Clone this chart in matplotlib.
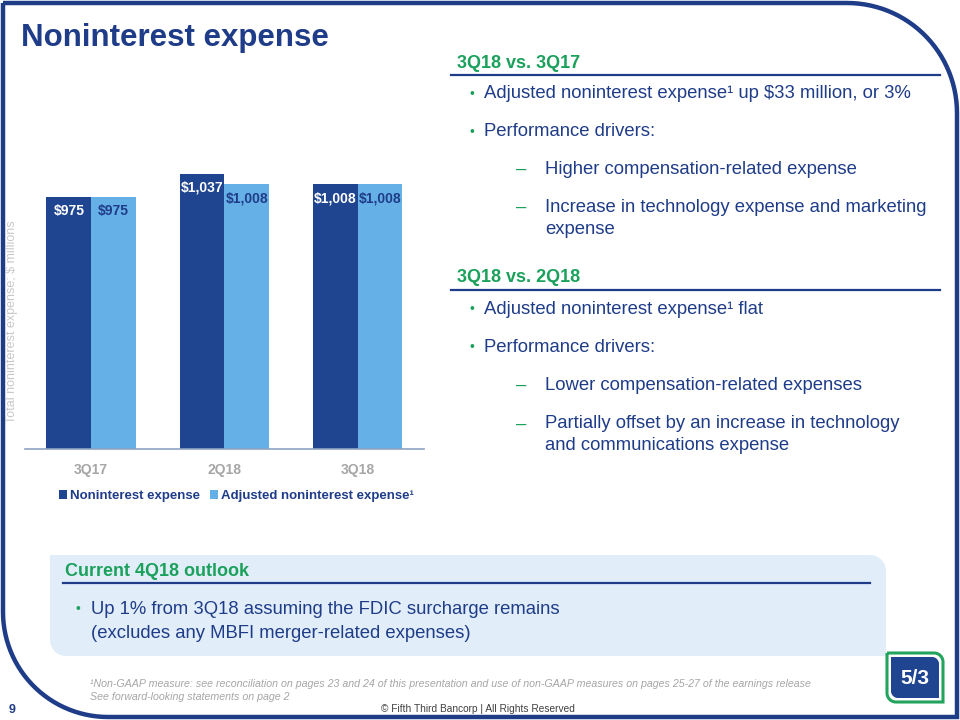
import numpy as np
import matplotlib
matplotlib.use("Agg")
import matplotlib.pyplot as plt
from matplotlib.path import Path
from matplotlib.patches import PathPatch

plt.rcParams['font.family'] = ['Liberation Sans', 'DejaVu Sans']

# ---------------- data ----------------
categories = ["3Q17", "2Q18", "3Q18"]
noninterest_expense = [975, 1037, 1008]
adjusted_noninterest_expense = [975, 1008, 1008]
series_names = ["Noninterest expense", "Adjusted noninterest expense¹"]
y_axis_label = "Total noninterest expense; $ millions"

# ---------------- styles ----------------
NAVY = "#1F3C88"
DARK_BAR = "#1F4591"
LIGHT_BAR = "#66B0E8"
GREEN = "#1BA15C"
GRAY = "#A6A6A6"

fig = plt.figure(figsize=(9.6, 7.2), dpi=100)
W, H = 960, 720

# background overlay axes in pixel coordinates
bg = fig.add_axes([0, 0, 1, 1])
bg.set_xlim(0, W)
bg.set_ylim(H, 0)
bg.axis("off")


def corner_path(x0, y0, x1, y1, r_tr, r_bl, n=30):
    pts = [(x0, y0), (x1 - r_tr, y0)]
    t = np.linspace(-np.pi / 2, 0, n)
    cx, cy = x1 - r_tr, y0 + r_tr
    pts += list(zip(cx + r_tr * np.cos(t), cy + r_tr * np.sin(t)))
    pts += [(x1, y1), (x0 + r_bl, y1)]
    t = np.linspace(np.pi / 2, np.pi, n)
    cx, cy = x0 + r_bl, y1 - r_bl
    pts += list(zip(cx + r_bl * np.cos(t), cy + r_bl * np.sin(t)))
    pts += [(x0, y0)]
    return Path(pts)


# slide frame
bg.add_patch(PathPatch(corner_path(3, 3, 957, 717, 110, 105), fill=False,
                       edgecolor=NAVY, lw=3.2, zorder=1))

# outlook box
bg.add_patch(PathPatch(corner_path(50, 555, 886, 656, 16, 16), facecolor="#E1EEF9",
                       edgecolor="none", zorder=0))

# title
bg.text(21, 38, "Noninterest expense", fontsize=22.5, fontweight="bold", color=NAVY,
        va="center", ha="left")

# right-side commentary
TXT = 13.3


def header(y, s, x0=457, xl0=451, xl1=940):
    bg.text(x0, y, s, fontsize=13, fontweight="bold", color=GREEN, va="center", ha="left")
    bg.plot([xl0, xl1], [y + 12, y + 12], color=NAVY, lw=1.6)


def bullet(y, s, xb=469, xt=484):
    bg.text(xb, y, "•", fontsize=10, color=GREEN, va="center", ha="left")
    bg.text(xt, y, s, fontsize=TXT, color=NAVY, va="center", ha="left")


def dash(y, s):
    bg.text(516, y, "–", fontsize=TXT, color=GREEN, va="center", ha="left")
    bg.text(545, y, s, fontsize=TXT, color=NAVY, va="center", ha="left")


header(63, "3Q18 vs. 3Q17")
bullet(94, "Adjusted noninterest expense¹ up $33 million, or 3%")
bullet(132, "Performance drivers:")
dash(169, "Higher compensation-related expense")
dash(207, "Increase in technology expense and marketing")
bg.text(545, 229, "expense", fontsize=TXT, color=NAVY, va="center", ha="left")

header(278, "3Q18 vs. 2Q18")
bullet(309, "Adjusted noninterest expense¹ flat")
bullet(347, "Performance drivers:")
dash(385, "Lower compensation-related expenses")
dash(424, "Partially offset by an increase in technology")
bg.text(545, 446, "and communications expense", fontsize=TXT, color=NAVY, va="center", ha="left")

# outlook
bg.text(65, 571, "Current 4Q18 outlook", fontsize=13, fontweight="bold", color=GREEN,
        va="center", ha="left")
bg.plot([63, 870], [583, 583], color=NAVY, lw=1.6)
bg.text(76, 609, "•", fontsize=10, color=GREEN, va="center", ha="left")
bg.text(91, 609, "Up 1% from 3Q18 assuming the FDIC surcharge remains", fontsize=TXT,
        color=NAVY, va="center", ha="left")
bg.text(91, 634, "(excludes any MBFI merger-related expenses)", fontsize=TXT,
        color=NAVY, va="center", ha="left")

# footnotes
bg.text(90, 684, "¹Non-GAAP measure: see reconciliation on pages 23 and 24 of this presentation "
        "and use of non-GAAP measures on pages 25-27 of the earnings release",
        fontsize=7.7, style="italic", color=GRAY, va="center", ha="left")
bg.text(90, 697, "See forward-looking statements on page 2", fontsize=7.7, style="italic",
        color=GRAY, va="center", ha="left")
bg.text(478, 709, "© Fifth Third Bancorp | All Rights Reserved", fontsize=7.3, color="#404040",
        va="center", ha="center")
bg.text(12, 710, "9", fontsize=9, fontweight="bold", color=NAVY, va="center", ha="center")

# logo
bg.add_patch(PathPatch(corner_path(887, 653, 943, 702, 9, 9), facecolor="white",
                       edgecolor="#22A45D", lw=2.2, zorder=2))
bg.add_patch(PathPatch(corner_path(891, 657, 939, 698, 7, 7), facecolor=DARK_BAR,
                       edgecolor="none", zorder=3))
bg.text(915, 678, "5/3", fontsize=15, fontweight="bold", color="white", va="center",
        ha="center", zorder=4)

# ---------------- chart ----------------
ax_left, ax_right = 24.5, 424.5
ax_bottom, ax_top = 449, 150
ax = fig.add_axes([ax_left / W, 1 - ax_bottom / H, (ax_right - ax_left) / W,
                   (ax_bottom - ax_top) / H])
ax.patch.set_alpha(0)
x = np.arange(len(categories))
bw = 0.335
b1 = ax.bar(x - bw / 2, noninterest_expense, bw, color=DARK_BAR, label=series_names[0])
b2 = ax.bar(x + bw / 2, adjusted_noninterest_expense, bw, color=LIGHT_BAR,
            label=series_names[1])
ax.set_xlim(-0.5, 2.5)
ax.set_ylim(300, 1100)
for rect, v in zip(b1, noninterest_expense):
    ax.annotate(f"${v:,}", (rect.get_x() + rect.get_width() / 2, v), xytext=(0, -14),
                textcoords="offset pixels", ha="center", va="center", fontsize=10,
                fontweight="bold", color="white")
for rect, v in zip(b2, adjusted_noninterest_expense):
    ax.annotate(f"${v:,}", (rect.get_x() + rect.get_width() / 2, v), xytext=(0, -14),
                textcoords="offset pixels", ha="center", va="center", fontsize=10,
                fontweight="bold", color=NAVY)

for s in ["top", "right", "left"]:
    ax.spines[s].set_visible(False)
ax.spines["bottom"].set_color("#8EA3C2")
ax.spines["bottom"].set_linewidth(1.2)
ax.set_yticks([])
ax.set_xticks(x)
ax.set_xticklabels(categories, fontsize=10, fontweight="bold", color=GRAY)
ax.tick_params(axis="x", length=0, pad=10)

leg = ax.legend(loc="center", bbox_to_anchor=(0.53, -0.158), ncol=2, frameon=False,
                handlelength=0.6, handleheight=0.6, handletextpad=0.25,
                columnspacing=0.7, prop={"weight": "bold", "size": 9.5})
for t in leg.get_texts():
    t.set_color(NAVY)

fig.text(12 / W, 1 - 322 / H, y_axis_label, rotation=90, fontsize=9, color="#C8C8C8",
         va="center", ha="center")

fig.savefig("out.png", dpi=100)
